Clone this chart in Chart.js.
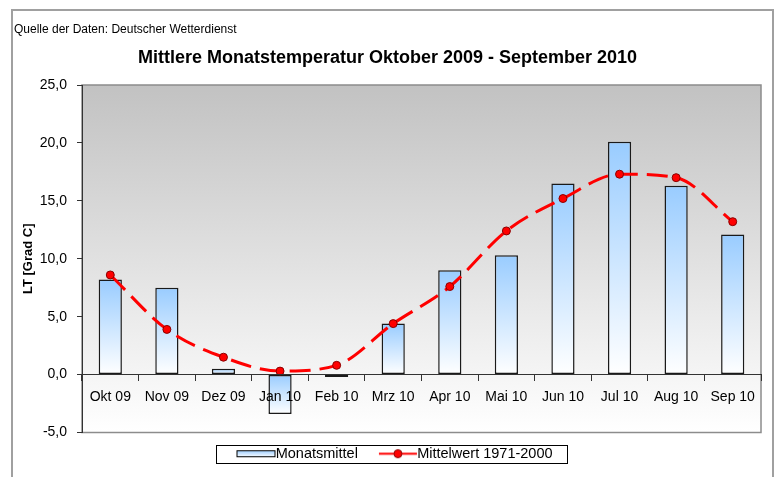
<!DOCTYPE html>
<html>
<head>
<meta charset="utf-8">
<script src="https://cdn.jsdelivr.net/npm/chart.js@4"></script>
<style>
  html, body { margin: 0; padding: 0; background: #fff; }
</style>
</head>
<body>
<canvas id="tempChart" width="777" height="477"></canvas>
<script>
// ====== Data ======
const months = ["Okt 09", "Nov 09", "Dez 09", "Jan 10", "Feb 10", "Mrz 10",
                "Apr 10", "Mai 10", "Jun 10", "Jul 10", "Aug 10", "Sep 10"];
const monatsmittel = [8.2, 7.5, 0.5, -3.4, -0.2, 4.4, 9.0, 10.3, 16.5, 20.1, 16.3, 12.1];
const mittelwert = [8.6, 3.9, 1.5, 0.3, 0.8, 4.4, 7.6, 12.4, 15.2, 17.3, 17.0, 13.2];
const yMin = -5, yMax = 25, yStep = 5;

const FONT = "'Liberation Sans', Arial, sans-serif";

// bar fill: light blue at the top of each bar fading to white at the bottom
function barGradient(context) {
  const chart = context.chart;
  const y = chart.scales.y;
  const v = context.raw;
  if (!y || v === undefined) return "#99ccff";
  const top = y.getPixelForValue(Math.max(v, 0));
  const bottom = y.getPixelForValue(Math.min(v, 0));
  if (!isFinite(top) || !isFinite(bottom) || top === bottom) return "#99ccff";
  const g = chart.ctx.createLinearGradient(0, top, 0, bottom);
  g.addColorStop(0, "#99ccff");
  g.addColorStop(1, "#ffffff");
  return g;
}

// legend symbols (drawn into small canvases, used as point styles)
function barSymbol() {
  const c = document.createElement("canvas");
  c.width = 54; c.height = 9;
  const x = c.getContext("2d");
  const g = x.createLinearGradient(0, 1, 0, 8);
  g.addColorStop(0, "#99ccff");
  g.addColorStop(1, "#ffffff");
  x.fillStyle = g;
  x.fillRect(14, 1, 39, 7);
  x.strokeStyle = "#000";
  x.lineWidth = 1;
  x.strokeRect(14.5, 1.5, 38, 6);
  return c;
}
function lineSymbol() {
  const c = document.createElement("canvas");
  c.width = 54; c.height = 11;
  const x = c.getContext("2d");
  x.strokeStyle = "#ff0000";
  x.lineWidth = 2;
  x.beginPath(); x.moveTo(15, 5.5); x.lineTo(53, 5.5); x.stroke();
  x.fillStyle = "#ff0000";
  x.beginPath(); x.arc(34, 5.5, 4, 0, Math.PI * 2); x.fill();
  x.strokeStyle = "#8b0000"; x.lineWidth = 1; x.stroke();
  return c;
}

const frames = {
  id: "frames",
  afterLayout(chart) {
    // nudge the legend a little to the right, like the original
    chart.legend.left += 4;
    chart.legend.right += 4;
  },
  beforeDraw(chart) {
    const { ctx, chartArea: a } = chart;
    ctx.save();
    // outer frame
    ctx.strokeStyle = "#a0a0a0";
    ctx.lineWidth = 2;
    ctx.strokeRect(12, 10, 761, 480);
    // plot area
    const g = ctx.createLinearGradient(0, a.top, 0, a.bottom);
    g.addColorStop(0, "#c2c2c2");
    g.addColorStop(1, "#ffffff");
    ctx.fillStyle = g;
    ctx.fillRect(a.left, a.top, a.right - a.left, a.bottom - a.top);
    ctx.strokeStyle = "#8c8c8c";
    ctx.lineWidth = 1.5;
    ctx.strokeRect(a.left, a.top, a.right - a.left, a.bottom - a.top);
    ctx.restore();
  },
  afterDraw(chart) {
    const boxes = chart.legend.legendHitBoxes;
    if (!boxes || !boxes.length) return;
    const left = boxes[0].left - 14;
    const last = boxes[boxes.length - 1];
    const right = last.left + last.width + 15;
    const mid = boxes[0].top + boxes[0].height / 2;
    const ctx = chart.ctx;
    ctx.save();
    ctx.strokeStyle = "#000";
    ctx.lineWidth = 1;
    ctx.strokeRect(Math.round(left) + 0.5, Math.round(mid - 9) + 0.5, Math.round(right - left), 18);
    ctx.restore();
  }
};

const ctx = document.getElementById("tempChart").getContext("2d");
new Chart(ctx, {
  data: {
    labels: months,
    datasets: [
      {
        type: "bar",
        label: "Monatsmittel",
        data: monatsmittel,
        backgroundColor: barGradient,
        borderColor: "#1a1a1a",
        borderWidth: 1.5,
        borderSkipped: false,
        barPercentage: 0.41,
        categoryPercentage: 1,
        order: 2
      },
      {
        type: "line",
        label: "Mittelwert 1971-2000",
        data: mittelwert,
        borderColor: "#ff0000",
        borderWidth: 3,
        borderDash: [21, 9],
        cubicInterpolationMode: "monotone",
        pointRadius: 4,
        pointBackgroundColor: "#ff0000",
        pointBorderColor: "#8b0000",
        pointBorderWidth: 1,
        order: 1
      }
    ]
  },
  options: {
    responsive: false,
    animation: false,
    layout: { padding: { left: 14, right: 16, top: 0, bottom: 6 } },
    scales: {
      x: {
        position: { y: 0 },
        offset: true,
        grid: { offset: true, drawOnChartArea: false, drawTicks: true, tickLength: 6, color: "#333", z: 1 },
        border: { color: "#333", width: 1, z: 1 },
        ticks: { color: "#000", font: { family: FONT, size: 14 }, padding: 8, maxRotation: 0, z: 1 }
      },
      y: {
        min: yMin,
        max: yMax,
        afterFit(scale) { scale.width = 68; },
        grid: { drawOnChartArea: false, drawTicks: true, tickLength: 5, color: "#333" },
        border: { color: "#333", width: 1 },
        ticks: {
          stepSize: yStep,
          color: "#000",
          padding: 10,
          font: { family: FONT, size: 14 },
          callback: v => v.toFixed(1).replace(".", ",")
        },
        title: {
          display: true,
          text: "LT [Grad C]",
          color: "#000",
          font: { family: FONT, size: 13, weight: "bold" },
          padding: { top: 7, bottom: 0 }
        }
      }
    },
    plugins: {
      title: {
        display: true,
        text: "Quelle der Daten: Deutscher Wetterdienst",
        align: "start",
        color: "#000",
        font: { family: FONT, size: 12, weight: "normal" },
        padding: { top: 22, bottom: 11 }
      },
      subtitle: {
        display: true,
        text: "Mittlere Monatstemperatur Oktober 2009 - September 2010",
        color: "#000",
        font: { family: FONT, size: 18, weight: "bold" },
        padding: { top: 0, bottom: 16 }
      },
      legend: {
        position: "bottom",
        labels: {
          color: "#000",
          font: { family: FONT, size: 14.5 },
          usePointStyle: true,
          pointStyleWidth: 38,
          padding: 14,
          generateLabels(chart) {
            return chart.data.datasets.map((ds, i) => ({
              text: ds.label,
              datasetIndex: i,
              pointStyle: i === 0 ? barSymbol() : lineSymbol(),
              fontColor: "#000",
              hidden: false,
              lineWidth: 0
            }));
          }
        }
      },
      tooltip: { enabled: false }
    }
  },
  plugins: [frames]
});
</script>
</body>
</html>
